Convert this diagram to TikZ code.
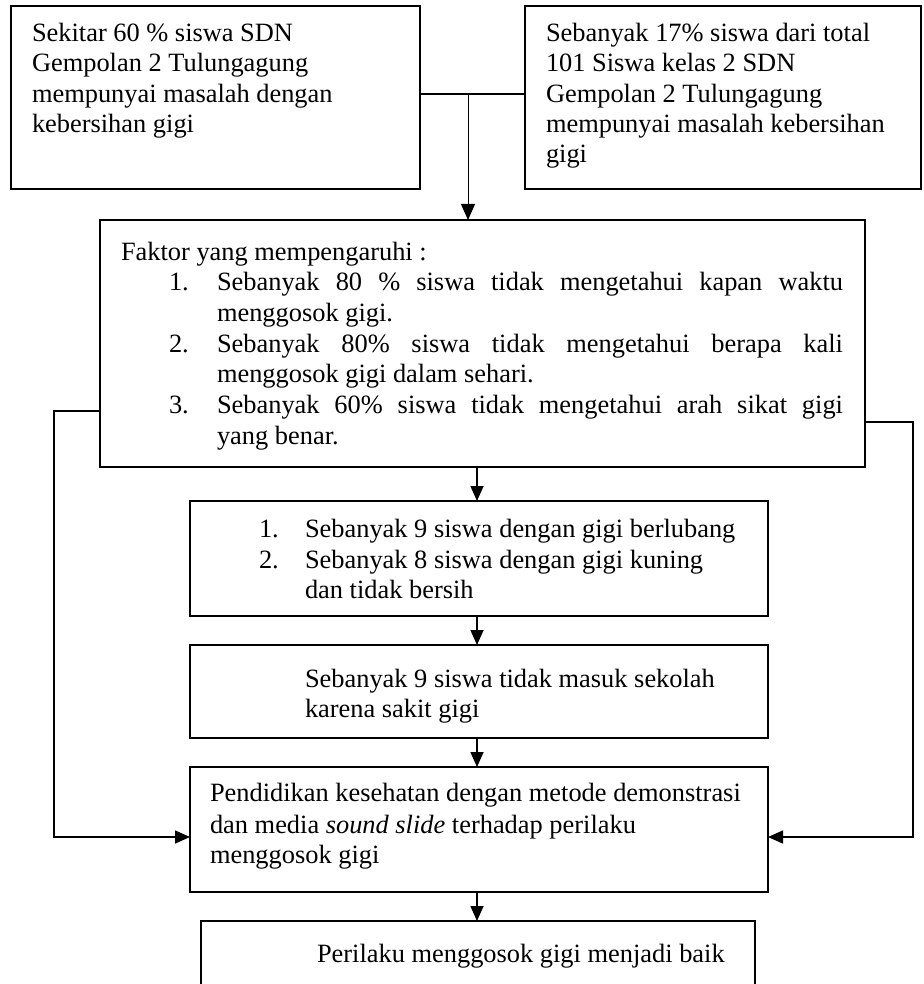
\documentclass[tikz,border=0pt]{standalone}
\usepackage{fontspec}
\setmainfont{Liberation Serif}
\usetikzlibrary{arrows.meta}
\tikzset{
  box/.style={draw, line width=2.4pt, rectangle, inner sep=0pt, outer sep=0pt, anchor=north west},
  txt/.style={anchor=base west, inner sep=0pt, outer sep=0pt, font=\fontsize{26.4}{30.5}\selectfont},
  conn/.style={line width=1.8pt},
  thinconn/.style={line width=1pt},
  arr/.style={line width=1.6pt, -{Triangle[width=13pt,length=15pt]}},
  thinarr/.style={line width=1pt, -{Triangle[width=14pt,length=16pt]}}
}
\begin{document}
\begin{tikzpicture}[x=1pt,y=-1pt]
\clip (0,0) rectangle (923,984);
\fill[white] (0,0) rectangle (923,984);
% boxes
\node[box, minimum width=409pt, minimum height=183pt] (b1) at (11,6) {};
\node[box, minimum width=396pt, minimum height=183pt] (b2) at (525,6) {};
\node[box, minimum width=765pt, minimum height=247pt] (b3) at (100,220) {};
\node[box, minimum width=578pt, minimum height=115pt] (b4) at (190,501) {};
\node[box, minimum width=578pt, minimum height=93pt] (b5) at (190,645) {};
\node[box, minimum width=578pt, minimum height=125pt] (b6) at (190,767) {};
\node[box, minimum width=554pt, minimum height=110pt] (b7) at (201,921) {};
% texts box 1
\node[txt] (t11) at (32,42) {Sekitar 60 \% siswa SDN};
\node[txt] (t12) at (32,72) {Gempolan 2 Tulungagung};
\node[txt] (t13) at (32,103) {mempunyai masalah dengan};
\node[txt] (t14) at (32,133) {kebersihan gigi};
% texts box 2
\node[txt] (t21) at (546,42) {Sebanyak 17\% siswa dari total};
\node[txt] (t22) at (546,72) {101 Siswa kelas 2 SDN};
\node[txt] (t23) at (546,103) {Gempolan 2 Tulungagung};
\node[txt] (t24) at (546,133) {mempunyai masalah kebersihan};
\node[txt] (t25) at (546,163) {gigi};
% texts box 3
\node[txt] (t30) at (121,260) {Faktor yang mempengaruhi :};
\node[txt] (n31) at (169,290) {1.};
\node[txt] (t31) at (217,290) {\makebox[626pt][s]{Sebanyak 80 \% siswa tidak mengetahui kapan waktu}};
\node[txt] (t32) at (217,321) {menggosok gigi.};
\node[txt] (n33) at (169,352) {2.};
\node[txt] (t33) at (217,352) {\makebox[626pt][s]{Sebanyak 80\% siswa tidak mengetahui berapa kali}};
\node[txt] (t34) at (217,382) {menggosok gigi dalam sehari.};
\node[txt] (n35) at (169,413) {3.};
\node[txt] (t35) at (217,413) {\makebox[626pt][s]{Sebanyak 60\% siswa tidak mengetahui arah sikat gigi}};
\node[txt] (t36) at (217,444) {yang benar.};
% texts box 4
\node[txt] (n41) at (259,537) {1.};
\node[txt] (t41) at (305,537) {Sebanyak 9 siswa dengan gigi berlubang};
\node[txt] (n42) at (259,568) {2.};
\node[txt] (t42) at (305,568) {Sebanyak 8 siswa dengan gigi kuning};
\node[txt] (t43) at (305,598) {dan tidak bersih};
% texts box 5
\node[txt] (t51) at (305,687) {Sebanyak 9 siswa tidak masuk sekolah};
\node[txt] (t52) at (305,717) {karena sakit gigi};
% texts box 6
\node[txt] (t61) at (210,801) {Pendidikan kesehatan dengan metode demonstrasi};
\node[txt] (t62) at (210,833) {dan media \textit{sound slide} terhadap perilaku};
\node[txt] (t63) at (210,863) {menggosok gigi};
% text box 7
\node[txt] (t71) at (317,962) {Perilaku menggosok gigi menjadi baik};
% connectors
\coordinate (j) at (468,94);
\coordinate (ax) at (477,0);
\coordinate (lx) at (54,0);
\coordinate (rx) at (913,0);
\coordinate (ly) at (0,411);
\coordinate (ry) at (0,422);
\coordinate (by) at (0,837);
\draw[conn] (b1.east |- j) -- (b2.west |- j);
\draw[thinarr] (j) -- (j |- b3.north);
\draw[arr] (b3.south -| ax) -- (b4.north -| ax);
\draw[arr] (b4.south -| ax) -- (b5.north -| ax);
\draw[arr] (b5.south -| ax) -- (b6.north -| ax);
\draw[arr] (b6.south -| ax) -- (b7.north -| ax);
\draw[arr] (b3.west |- ly) -- (lx |- ly) -- (lx |- by) -- (b6.west |- by);
\draw[arr] (b3.east |- ry) -- (rx |- ry) -- (rx |- by) -- (b6.east |- by);
\end{tikzpicture}
\end{document}
